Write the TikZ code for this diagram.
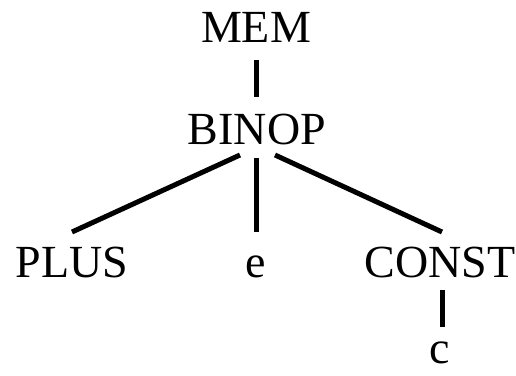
\documentclass[tikz,border=0pt]{standalone}
\usepackage{fontspec}
\setmainfont{Liberation Serif}
\begin{document}
\begin{tikzpicture}[x=1pt,y=1pt,
  lbl/.style={anchor=base,inner sep=0pt,font=\fontsize{46}{50}\selectfont},
  edge/.style={line width=5pt,line cap=butt}]
\useasboundingbox (0,0) rectangle (516,375);
\node[lbl] (mem) at (256,332) {MEM};
\node[lbl] (binop) at (257,230) {BINOP};
\node[lbl] (plus) at (72,98) {PLUS};
\node[lbl] (e) at (256,98) {e};
\node[lbl] (const) at (440,98) {CONST};
\node[lbl] (c) at (440,12) {c};
\draw[edge] ([yshift=-17pt]mem.base) -- ([shift={(-1pt,48pt)}]binop.base);
\draw[edge] ([shift={(-17pt,-10pt)}]binop.base) -- ([yshift=45pt]plus.base);
\draw[edge] ([shift={(-1pt,-13pt)}]binop.base) -- ([yshift=45pt]e.base);
\draw[edge] ([shift={(18pt,-10pt)}]binop.base) -- ([shift={(2pt,45pt)}]const.base);
\draw[edge] ([shift={(2pt,-13pt)}]const.base) -- ([shift={(2pt,36pt)}]c.base);
\end{tikzpicture}
\end{document}
